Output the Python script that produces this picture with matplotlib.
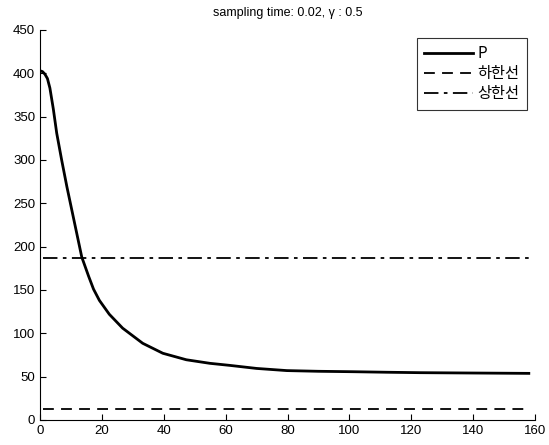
import matplotlib
matplotlib.use("Agg")
import matplotlib.pyplot as plt

plt.rcParams['font.family'] = ['Liberation Sans', 'Noto Sans CJK KR', 'DejaVu Sans']

# Data
t = [0, 0.8, 1.6, 2.4, 3.2, 4.3, 5.4, 7.0, 8.7, 10.3, 11.9, 13.5, 15.7, 17.3,
     19.2, 22.4, 26.7, 33.2, 39.7, 47.3, 54.9, 61.4, 70, 79.8, 90, 101.4,
     112, 123, 140, 158]
p = [403, 402, 399, 394, 383, 359, 331, 300, 269, 242, 215, 188, 166, 151,
     138, 122, 106, 88.5, 77, 69.5, 65.4, 63, 59.5, 57, 56.2, 55.7,
     55.1, 54.6, 54.2, 53.8]
lower_x = [1, 158]
lower_y = [12.5, 12.5]
upper_x = [1, 158]
upper_y = [187, 187]
labels = ['P', '하한선', '상한선']
title = 'sampling time: 0.02, γ : 0.5'

fig = plt.figure(figsize=(5.49, 4.45), dpi=100)
ax = fig.add_axes([40/549, (445-420)/445, (535-40)/549, (420-30)/445])

ax.plot(t, p, color='black', lw=2.0, label=labels[0])
ax.plot(lower_x, lower_y, color='black', lw=1.3, ls=(0, (6, 4)), label=labels[1])
ax.plot(upper_x, upper_y, color='black', lw=1.3, ls=(0, (8, 3, 2, 3)), label=labels[2])

ax.set_xlim(0, 160)
ax.set_ylim(0, 450)
ax.set_xticks(range(0, 161, 20))
ax.set_yticks(range(0, 451, 50))
ax.spines['top'].set_visible(False)
ax.spines['right'].set_visible(False)
ax.tick_params(direction='in', length=4, labelsize=9.5, width=0.8)
ax.set_title(title, fontsize=9, pad=10)

leg = ax.legend(loc='upper right', bbox_to_anchor=(1.0, 1.0), fontsize=11,
                frameon=True, fancybox=False, handlelength=3.2, handletextpad=0.3,
                borderpad=0.5, labelspacing=0.2, borderaxespad=0.5)
leg.get_frame().set_edgecolor('black')
leg.get_frame().set_linewidth(0.8)
for txt in leg.get_texts():
    txt.set_family(['Noto Sans CJK KR', 'DejaVu Sans'])

fig.savefig('out.png', dpi=100)
